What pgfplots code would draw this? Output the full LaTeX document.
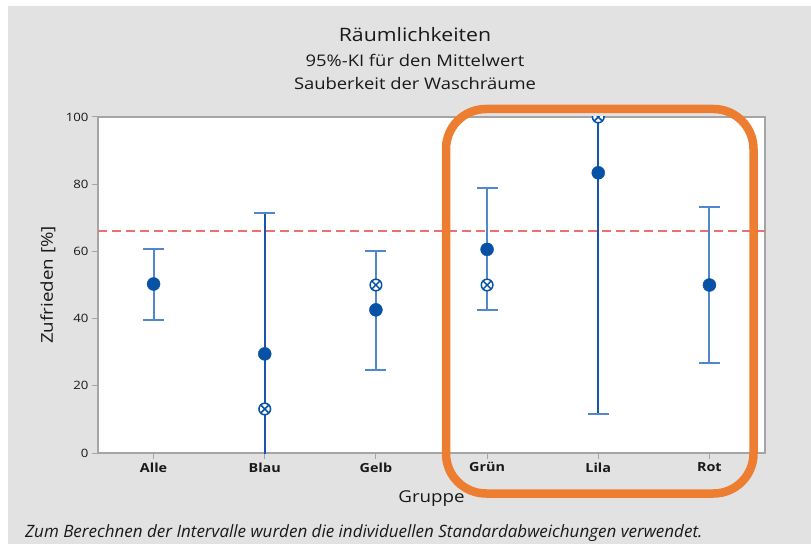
\documentclass[border=0pt]{standalone}
\usepackage{pgfplots}
\usepackage{pgfplotstable}
\pgfplotsset{compat=1.18}
\usepackage{fontspec}
\setmainfont{Open Sans}
\newfontfamily\wide{Open Sans}[FakeStretch=1.15]
\definecolor{bggray}{RGB}{226,226,226}
\definecolor{axgray}{RGB}{165,165,165}
\definecolor{barlight}{RGB}{80,135,205}
\definecolor{bardark}{RGB}{24,86,170}
\definecolor{meanblue}{RGB}{8,82,165}
\definecolor{refred}{RGB}{236,112,112}
\definecolor{reftext}{RGB}{170,50,55}
\definecolor{boxorange}{RGB}{237,125,49}
\definecolor{txt}{RGB}{25,25,25}

% x: 0=Alle 1=Blau 2=Gelb 3=Grün 4=Lila 5=Rot
\pgfplotstableread{
x  m     lo     hi
0  50.3  39.6   60.7
2  42.6  24.7   60.1
3  60.6  42.6   79.0
5  50.0  26.9   73.2
}\cilight
\pgfplotstableread{
x  m     lo     hi
1  29.5  -12.0  71.4
4  83.4  11.7   155.0
}\cidark
\pgfplotstableread{
x  med
1  13.1
2  50.0
3  50.0
4  100.0
}\medians

\begin{document}
\begin{tikzpicture}[x=1pt,y=1pt]
\fill[white] (0,0) rectangle (811,544);
\fill[bggray] (8,0) rectangle (811,538);
\begin{axis}[
  at={(98pt,91pt)}, anchor=south west,
  scale only axis, width=667pt, height=336pt,
  xmin=-0.5, xmax=5.5, ymin=0, ymax=100,
  xtick={0,...,5}, xticklabels={Alle,Blau,Gelb,Grün,Lila,Rot},
  ytick={0,20,...,100},
  xtick pos=bottom, ytick pos=left, tick align=outside,
  major tick length=6pt,
  axis line style={draw=axgray,line width=1.5pt},
  tick style={draw=axgray,line width=1pt},
  axis background/.style={fill=white},
  yticklabel style={font=\wide\fontsize{11.5}{14}\selectfont,text=txt},
  xticklabel style={font=\wide\bfseries\fontsize{12.5}{14}\selectfont,text=txt},
  /pgf/number format/assume math mode=true,
  xlabel={Gruppe}, ylabel={Zufrieden [\%]},
  label style={font=\wide\fontsize{16.3}{18}\selectfont,text=txt},
  x label style={at={(axis description cs:0.5,-0.135)},anchor=center},
  y label style={at={(axis description cs:-0.075,0.5)},anchor=center},
  clip marker paths=true,
]
\addplot[refred,dash pattern=on 9pt off 5pt,line width=2.4pt] coordinates {(-0.5,66) (5.5,66)};
\addplot[barlight,only marks,mark=none,
  error bars/.cd,y dir=both,y explicit,
  error bar style={barlight,line width=2pt},
  error mark options={rotate=90,mark size=10.5pt,barlight,line width=2pt}]
  table[x=x,y=m,y error plus expr=\thisrow{hi}-\thisrow{m},y error minus expr=\thisrow{m}-\thisrow{lo}] {\cilight};
\addplot[bardark,only marks,mark=none,
  error bars/.cd,y dir=both,y explicit,
  error bar style={bardark,line width=2pt},
  error mark options={rotate=90,mark size=10.5pt,barlight,line width=2pt}]
  table[x=x,y=m,y error plus expr=\thisrow{hi}-\thisrow{m},y error minus expr=\thisrow{m}-\thisrow{lo}] {\cidark};
\addplot[only marks,mark=otimes*,mark size=5.8pt,
  mark options={draw=meanblue,fill=white,line width=1.5pt}] table[x=x,y=med] {\medians};
\addplot[only marks,mark=*,mark size=6.5pt,
  mark options={draw=meanblue,fill=meanblue}] table[x=x,y=m] {\cilight};
\addplot[only marks,mark=*,mark size=6.5pt,
  mark options={draw=meanblue,fill=meanblue}] table[x=x,y=m] {\cidark};
\node[anchor=west,text=reftext,font=\wide\fontsize{13.4}{15}\selectfont,inner sep=0pt,xshift=6pt] at (rel axis cs:1,0.66) {66};
\end{axis}
\node[text=txt,font=\wide\fontsize{18.5}{21}\selectfont] at (415,509) {Räumlichkeiten};
\node[text=txt,font=\wide\fontsize{16}{19}\selectfont] at (415,484) {95\%-KI für den Mittelwert};
\node[text=txt,font=\wide\fontsize{16}{19}\selectfont] at (415,460) {Sauberkeit der Waschräume};
\node[text=txt,font=\itshape\fontsize{17}{19}\selectfont,anchor=west,inner sep=0pt] at (25,11) {Zum Berechnen der Intervalle wurden die individuellen Standardabweichungen verwendet.};
\draw[boxorange,line width=8.5pt,rounded corners=40pt] (446,50.5) rectangle (753.5,435);
\pgfresetboundingbox
\useasboundingbox (0,0) rectangle (811,544);
\end{tikzpicture}
\end{document}
